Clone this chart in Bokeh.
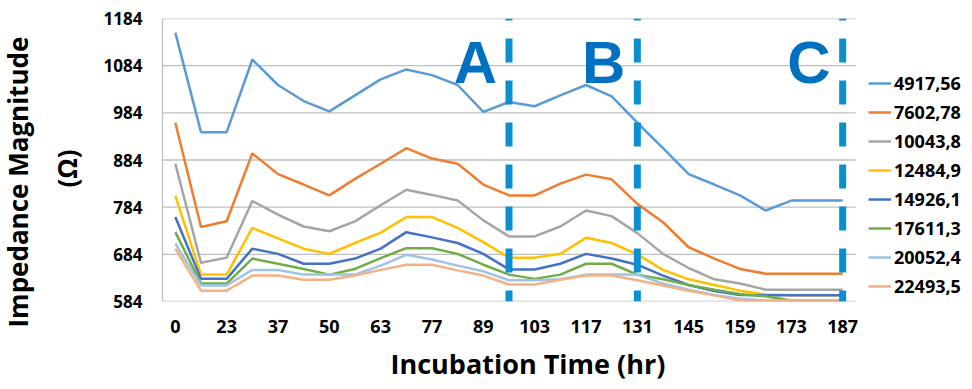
import math
from bokeh.plotting import figure
from bokeh.models import Range1d, FixedTicker, Label, Legend, LegendItem, Title
from bokeh.embed import file_html
from bokeh.resources import INLINE

# ---------------- data ----------------
tick_labels = ["0", "23", "37", "50", "63", "77", "89", "103", "117", "131", "145", "159", "173", "187"]

series_names = ["4917,56", "7602,78", "10043,8", "12484,9", "14926,1", "17611,3", "20052,4", "22493,5"]
series_colors = ["#5B9BD5", "#ED7D31", "#A5A5A5", "#FFC000", "#4472C4", "#70AD47", "#9DC3E6", "#F4B183"]

s_4917 = [1154, 943, 943, 1097, 1043, 1009, 987, 1021, 1055, 1076, 1064, 1043, 986, 1007,
          998, 1021, 1043, 1019, 963, 909, 854, 832, 809, 777, 798, 798, 798]
s_7602 = [963, 742, 754, 898, 854, 832, 809, 844, 876, 909, 887, 876, 832, 809,
          809, 834, 853, 843, 791, 752, 699, 675, 653, 643, 643, 643, 643]
s_10043 = [876, 666, 677, 797, 768, 743, 733, 754, 788, 821, 810, 798, 756, 722,
           722, 743, 777, 765, 729, 685, 655, 631, 622, 609, 609, 609, 609]
s_12484 = [808, 641, 641, 740, 718, 696, 685, 708, 730, 763, 763, 740, 710, 677,
           677, 685, 719, 708, 684, 651, 631, 619, 607, 599, 597, 597, 597]
s_14926 = [763, 632, 632, 696, 685, 664, 664, 675, 696, 731, 720, 708, 685, 652,
           652, 664, 685, 675, 662, 639, 619, 606, 598, 597, 597, 597, 597]
s_17611 = [731, 622, 622, 675, 664, 653, 641, 653, 676, 697, 697, 685, 662, 641,
           632, 641, 664, 664, 641, 631, 619, 609, 600, 595, 586, 586, 586]
s_20052 = [707, 618, 618, 651, 651, 641, 641, 641, 660, 683, 673, 660, 648, 629,
           629, 631, 641, 641, 641, 622, 609, 598, 590, 586, 586, 586, 586]
s_22493 = [696, 607, 607, 639, 639, 630, 630, 639, 651, 662, 662, 650, 639, 620,
           620, 630, 639, 639, 629, 618, 607, 597, 586, 585, 585, 585, 585]
series_values = [s_4917, s_7602, s_10043, s_12484, s_14926, s_17611, s_20052, s_22493]

y_ticks = [584, 684, 784, 884, 984, 1084, 1184]

marker_names = ["A", "B", "C"]
marker_index = [13, 18, 26]

# ---------------- layout constants (pixels) ----------------
W, H = 972, 389
plot_left, plot_right, plot_top, plot_bottom = 162, 855, 18, 301

n = len(s_4917)
x_idx = list(range(n))
x_start = -0.5
x_data_end = n - 0.5
# the frame reaches the right edge so the legend can sit beside the plot area
x_end = x_start + (x_data_end - x_start) * (W - plot_left) / (plot_right - plot_left)

p = figure(width=W, height=H, output_backend="svg", toolbar_location=None,
           x_range=Range1d(x_start, x_end), y_range=Range1d(y_ticks[0], y_ticks[-1]),
           min_border_left=plot_left, min_border_right=0,
           min_border_top=plot_top, min_border_bottom=H - plot_bottom)
p.outline_line_color = None
p.background_fill_color = "white"
p.border_fill_color = "white"

p.xgrid.visible = False
p.ygrid.visible = False
# horizontal gridlines limited to the plot area
p.segment(x0=[x_start] * len(y_ticks), y0=y_ticks, x1=[x_data_end] * len(y_ticks), y1=y_ticks,
          line_color="#BFBFBF", line_width=1.3)

p.yaxis.ticker = FixedTicker(ticks=y_ticks)
p.xaxis.ticker = FixedTicker(ticks=x_idx[::2])
p.xaxis.major_label_overrides = {i: lab for i, lab in zip(x_idx[::2], tick_labels)}

for ax in (p.xaxis[0], p.yaxis[0]):
    ax.axis_line_color = "#BFBFBF"
    ax.axis_line_width = 1.3
    ax.major_tick_line_color = None
    ax.minor_tick_line_color = None
    ax.major_tick_out = 0
    ax.major_tick_in = 0
    ax.major_label_text_font = "Open Sans"
    ax.major_label_text_font_style = "bold"
    ax.major_label_text_color = "black"
p.xaxis.axis_line_color = None
p.yaxis.major_label_text_font_size = "17px"
p.yaxis.major_label_standoff = 20
p.xaxis.major_label_text_font_size = "18px"
p.xaxis.major_label_standoff = 18

renderers = []
for name, vals, col in zip(series_names, series_values, series_colors):
    r = p.line(x_idx, vals, line_color=col, line_width=2.5)
    renderers.append(r)

# dashed phase markers
p.segment(x0=marker_index, y0=[y_ticks[-1]] * len(marker_index),
          x1=marker_index, y1=[y_ticks[0]] * len(marker_index),
          line_color="#0A8FD0", line_width=7, line_dash="24 18", line_dash_offset=22)

for name, idx in zip(marker_names, marker_index):
    p.add_layout(Label(x=idx, y=239, x_units="data", y_units="screen", text=name,
                       x_offset=-12, text_align="right", text_baseline="alphabetic",
                       text_font="Liberation Sans", text_font_style="bold",
                       text_font_size="60px", text_color="#0070C0"))

legend = Legend(items=[LegendItem(label=nm, renderers=[r]) for nm, r in zip(series_names, renderers)],
                location=(868 - plot_left, 3), orientation="vertical",
                padding=0, margin=0, spacing=5, glyph_width=23, glyph_height=20,
                label_height=20, label_standoff=3,
                label_text_font="Open Sans", label_text_font_style="bold",
                label_text_font_size="18px", label_text_color="black",
                border_line_color=None, background_fill_alpha=0)
p.add_layout(legend)

# axis titles
p.add_layout(Title(text="(Ω)", align="left", offset=114, standoff=31,
                   text_font="Open Sans", text_font_style="bold", text_font_size="26px",
                   text_color="black"), "left")
p.add_layout(Title(text="Impedance Magnitude", align="left", offset=-26, standoff=-8,
                   text_font="Open Sans", text_font_style="bold", text_font_size="26px",
                   text_color="black"), "left")
p.add_layout(Title(text="Incubation Time (hr)", align="left", offset=228, standoff=15,
                   text_font="Open Sans", text_font_style="bold", text_font_size="27px",
                   text_color="black"), "below")

open("out.html", "w").write(file_html(p, INLINE))
